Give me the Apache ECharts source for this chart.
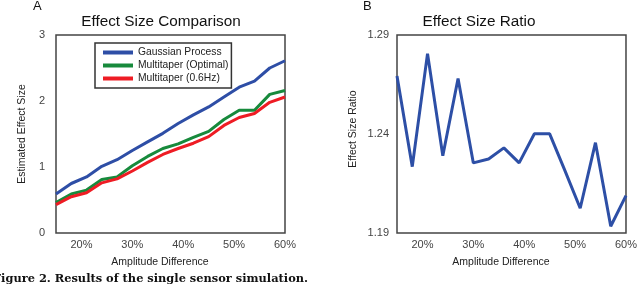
<!DOCTYPE html>
<html><head><meta charset="utf-8">
<script src="https://cdn.jsdelivr.net/npm/echarts@6/dist/echarts.min.js"></script>
<style>html,body{margin:0;padding:0;background:#fff;}#c{width:640px;height:286px;}</style>
</head><body><div id="c"></div>
<script>
// Amplitude difference (%)
const amplitude = [15, 18, 21, 24, 27, 30, 33, 36, 39, 42, 45, 48, 51, 54, 57, 60];
// Panel A: estimated effect size
const gaussianProcess   = [0.59, 0.75, 0.85, 1.01, 1.11, 1.25, 1.38, 1.51, 1.66, 1.79, 1.91, 2.06, 2.21, 2.30, 2.50, 2.61];
const multitaperOptimal = [0.46, 0.59, 0.65, 0.81, 0.85, 1.02, 1.16, 1.28, 1.35, 1.45, 1.54, 1.72, 1.86, 1.86, 2.10, 2.16];
const multitaper06Hz    = [0.43, 0.55, 0.61, 0.76, 0.82, 0.94, 1.07, 1.19, 1.28, 1.36, 1.46, 1.63, 1.75, 1.81, 1.98, 2.06];
// Panel B: effect size ratio
const effectSizeRatio   = [1.2693, 1.2235, 1.2806, 1.2290, 1.2680, 1.2254, 1.2274, 1.2330, 1.2254, 1.2401, 1.2401, 1.2215, 1.2025, 1.2356, 1.1934, 1.2089];
// Tick labels
const xTicks = [20, 30, 40, 50, 60];
const yTicksA = [0, 1, 2, 3];
const yTicksB = [1.19, 1.24, 1.29];
const seriesNames = ['Gaussian Process', 'Multitaper (Optimal)', 'Multitaper (0.6Hz)'];

const FONT = 'Liberation Sans, Arial, sans-serif';
const pair = (xs, ys) => xs.map((x, i) => [x, ys[i]]);

const chart = echarts.init(document.getElementById('c'), null, {renderer: 'canvas'});

const xAxisBase = (gi) => ({
  type: 'value', gridIndex: gi, min: 15, max: 60,
  axisLine: {show: false}, axisTick: {show: false}, splitLine: {show: false},
  axisLabel: {customValues: xTicks, formatter: v => v + '%', margin: 6,
              color: '#444', fontFamily: FONT, fontSize: 11},
  name: 'Amplitude Difference', nameLocation: 'middle', nameGap: 24,
  nameTextStyle: {color: '#222', fontFamily: FONT, fontSize: 10.5, padding: [0, 21, 0, 0]}
});

const option = {
  animation: false,
  backgroundColor: '#fff',
  grid: [
    {left: 56, top: 35, width: 229, height: 198, show: true, borderColor: '#444', borderWidth: 1.5, backgroundColor: 'transparent'},
    {left: 397, top: 35, width: 230, height: 198, show: true, borderColor: '#444', borderWidth: 1.5, backgroundColor: 'transparent'}
  ],
  xAxis: [xAxisBase(0), xAxisBase(1)],
  yAxis: [
    {type: 'value', gridIndex: 0, min: 0, max: 3,
     axisLine: {show: false}, axisTick: {show: false}, splitLine: {show: false},
     axisLabel: {customValues: yTicksA, margin: 11, color: '#444', fontFamily: FONT, fontSize: 11},
     name: 'Estimated Effect Size', nameLocation: 'middle', nameGap: 28,
     nameTextStyle: {color: '#222', fontFamily: FONT, fontSize: 10.5}},
    {type: 'value', gridIndex: 1, min: 1.19, max: 1.29,
     axisLine: {show: false}, axisTick: {show: false}, splitLine: {show: false},
     axisLabel: {customValues: yTicksB, margin: 8, color: '#444', fontFamily: FONT, fontSize: 11,
                 formatter: v => v.toFixed(2)},
     name: 'Effect Size Ratio', nameLocation: 'middle', nameGap: 38,
     nameTextStyle: {color: '#222', fontFamily: FONT, fontSize: 10.5, padding: [0, 0, 0, 10]}}
  ],
  legend: {
    data: seriesNames, orient: 'vertical', left: 95, top: 43,
    icon: 'rect', itemWidth: 30, itemHeight: 4, itemGap: 0,
    backgroundColor: '#fff', borderColor: '#333', borderWidth: 1.5, borderRadius: 0,
    padding: [3, 3, 3, 8],
    textStyle: {color: '#222', fontFamily: FONT, fontSize: 10.3, lineHeight: 13}
  },
  graphic: [
    {type: 'text', left: 33, top: 0, style: {text: 'A', font: '13px ' + FONT, fill: '#111'}},
    {type: 'text', left: 363, top: 0, style: {text: 'B', font: '13px ' + FONT, fill: '#111'}},
    {type: 'text', x: 161, y: 22, style: {text: 'Effect Size Comparison', font: '15.3px ' + FONT, fill: '#111', textAlign: 'center', textVerticalAlign: 'middle'}},
    {type: 'text', x: 479, y: 22, style: {text: 'Effect Size Ratio', font: '15.3px ' + FONT, fill: '#111', textAlign: 'center', textVerticalAlign: 'middle'}},
    {type: 'text', x: 308, y: 279, style: {text: 'Figure 2. Results of the single sensor simulation.', font: 'bold 11.4px DejaVu Serif, Liberation Serif, serif', fill: '#111', textAlign: 'right', textVerticalAlign: 'middle'}}
  ],
  series: [
    {name: seriesNames[0], type: 'line', xAxisIndex: 0, yAxisIndex: 0, data: pair(amplitude, gaussianProcess),
     symbol: 'none', lineStyle: {color: '#2e4ea6', width: 3}, itemStyle: {color: '#2e4ea6'}},
    {name: seriesNames[1], type: 'line', xAxisIndex: 0, yAxisIndex: 0, data: pair(amplitude, multitaperOptimal),
     symbol: 'none', lineStyle: {color: '#178a3c', width: 3}, itemStyle: {color: '#178a3c'}},
    {name: seriesNames[2], type: 'line', xAxisIndex: 0, yAxisIndex: 0, data: pair(amplitude, multitaper06Hz),
     symbol: 'none', lineStyle: {color: '#ee1c24', width: 3}, itemStyle: {color: '#ee1c24'}},
    {name: 'Effect Size Ratio', type: 'line', xAxisIndex: 1, yAxisIndex: 1, data: pair(amplitude, effectSizeRatio),
     symbol: 'none', lineStyle: {color: '#2d4fa6', width: 3}, itemStyle: {color: '#2d4fa6'}}
  ]
};
chart.setOption(option);
</script></body></html>
